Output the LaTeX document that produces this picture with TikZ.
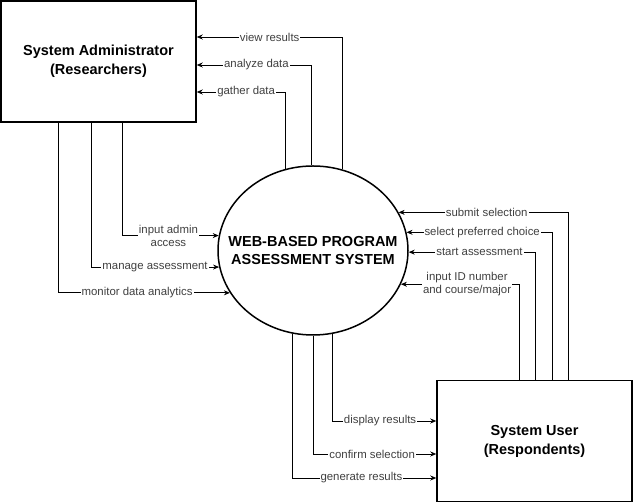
\documentclass[tikz,border=0pt]{standalone}
\usepackage{fontspec}
\setmainfont{Liberation Sans}
\usetikzlibrary{arrows.meta, shapes.geometric}

\begin{document}
\begin{tikzpicture}[x=1pt, y=1pt, >={Stealth[length=6pt, width=5pt]},
    entity/.style = {rectangle, draw, line width=1.5pt, minimum width=195pt, minimum height=121pt, align=center, font=\fontsize{14.5}{19}\selectfont\bfseries},
    proc/.style   = {ellipse, draw, line width=1.5pt, minimum width=190pt, minimum height=169pt, inner sep=0},
    flow/.style   = {->, line width=0.8pt},
    lbl/.style    = {fill=white, inner sep=1pt, align=center, text=black!75, font=\fontsize{11.4}{13}\selectfont}]
    \useasboundingbox (0,0) rectangle (633,503);

    \node[entity] (admin) at (98.5,441.5) {System Administrator\\(Researchers)};
    \node[proc]   (sys)   at (313,252.5)  {};
    \node[align=center, font=\fontsize{14.5}{18}\selectfont\bfseries] (systitle) at (sys.center) {WEB-BASED PROGRAM\\ASSESSMENT SYSTEM};
    \node[entity] (user)  at (534.5,62)   {System User\\(Respondents)};

    \draw[flow] (sys.70.9)  |- (admin.east |- 0,466) node[lbl, pos=0.75] {view results};
    \draw[flow] (sys.91)    |- (admin.east |- 0,438) node[lbl, pos=0.74] {analyze data};
    \draw[flow] (sys.109.8) |- (admin.east |- 0,411) node[lbl, pos=0.72] {gather data};

    \draw[flow] (admin.south -| 122,0) |- (sys.171.2) node[lbl, pos=0.74] {input admin\\access};
    \draw[flow] (admin.south -| 91,0)  |- (sys.190.7) node[lbl, pos=0.75] {manage assessment};
    \draw[flow] (admin.south -| 58,0)  |- (sys.207.4) node[lbl, pos=0.73] {monitor data analytics};

    \draw[flow] (user.north -| 568,0) |- (sys.24.5)  node[lbl, pos=0.74] {submit selection};
    \draw[flow] (user.north -| 552,0) |- (sys.11.3)  node[lbl, pos=0.74] {select preferred choice};
    \draw[flow] (user.north -| 535,0) |- (sys.359)   node[lbl, pos=0.72] {start assessment};
    \draw[flow] (user.north -| 519,0) |- (sys.339.7) node[lbl, pos=0.72] {input ID number\\and course/major};

    \draw[flow] (sys.283.6) |- (user.west |- 0,82) node[lbl, pos=0.73] {display results};
    \draw[flow] (sys.south) |- (user.west |- 0,49) node[lbl, pos=0.74] {confirm selection};
    \draw[flow] (sys.256.4) |- (user.west |- 0,25) node[lbl, pos=0.74] {generate results};
\end{tikzpicture}
\end{document}
